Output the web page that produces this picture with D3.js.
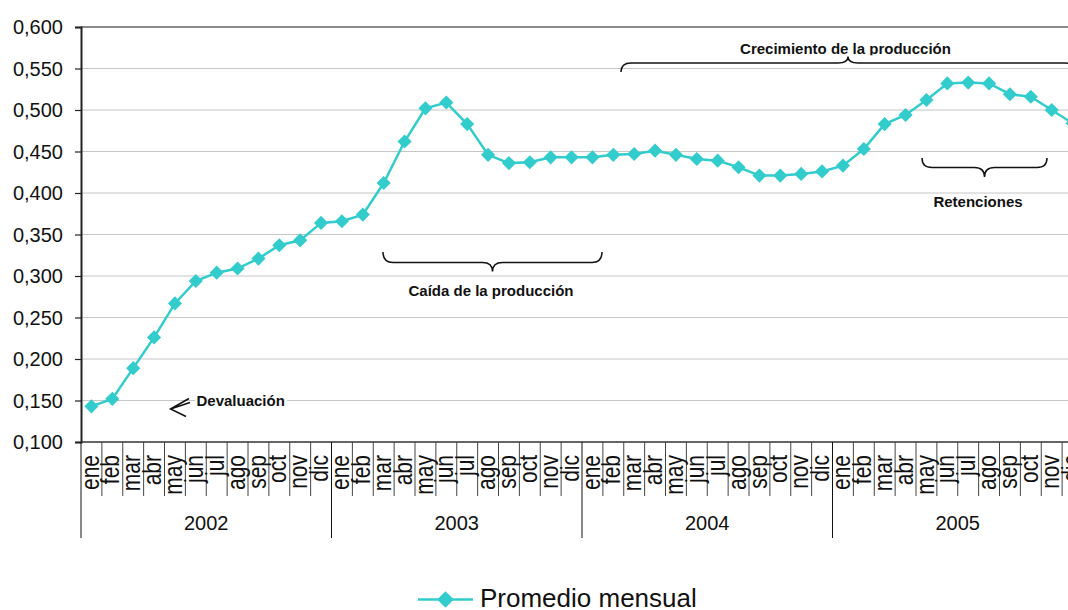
<!DOCTYPE html>
<html>
<head>
<meta charset="utf-8">
<script src="https://cdn.jsdelivr.net/npm/d3@7"></script>
<style>
  html, body { margin: 0; padding: 0; background: #fff; }
  svg { display: block; overflow: hidden; font-family: "Liberation Sans", Arial, sans-serif; }
</style>
</head>
<body>
<svg id="chart" width="1068" height="610"></svg>
<script>
const years = ["2002", "2003", "2004", "2005"];
const months = ["ene","feb","mar","abr","may","jun","jul","ago","sep","oct","nov","dic"];
const values2002 = [0.143,0.152,0.189,0.226,0.267,0.294,0.304,0.309,0.321,0.337,0.343,0.364];
const values2003 = [0.366,0.374,0.412,0.462,0.502,0.509,0.483,0.446,0.436,0.437,0.443,0.443];
const values2004 = [0.443,0.446,0.447,0.451,0.446,0.441,0.439,0.431,0.421,0.421,0.423,0.426];
const values2005 = [0.433,0.453,0.483,0.494,0.512,0.532,0.533,0.532,0.519,0.516,0.500,0.484];
const yTicks = [0.100,0.150,0.200,0.250,0.300,0.350,0.400,0.450,0.500,0.550,0.600];
const seriesName = "Promedio mensual";

(function () {
const allValues = [values2002, values2003, values2004, values2005];
const data = [];
years.forEach((yr, yi) => months.forEach((m, mi) => data.push({key: yr + "-" + m, year: yr, month: m, value: allValues[yi][mi]})));

const svg = d3.select("#chart");
const pLeft = 81, pRight = 1083, pTop = 27, pBottom = 442;
const color = "#33CCCC";

const x = d3.scaleBand().domain(data.map(d => d.key)).range([pLeft, pRight]).padding(0);
const xYear = d3.scaleBand().domain(years).range([pLeft, pRight]).padding(0);
const y = d3.scaleLinear().domain([0.1, 0.6]).range([pBottom, pTop]);
const cx = k => x(k) + x.bandwidth() / 2;

const loc = d3.formatLocale({decimal: ",", thousands: ".", grouping: [3], currency: ["", ""]});
const fmt = loc.format(".3f");

// gridlines
svg.append("g").selectAll("line").data(yTicks.filter(t => t > 0.1)).join("line")
  .attr("x1", pLeft).attr("x2", 1068)
  .attr("y1", d => y(d)).attr("y2", d => y(d))
  .attr("stroke", d => d === 0.6 ? "#8a8a8a" : "#c6c6c6")
  .attr("stroke-width", d => d === 0.6 ? 2 : 1);

// y axis
const yAxis = svg.append("g").attr("transform", `translate(${pLeft},0)`)
  .call(d3.axisLeft(y).tickValues(yTicks).tickFormat(fmt).tickSize(6).tickPadding(12));
yAxis.select(".domain").attr("stroke", "#222").attr("stroke-width", 2);
yAxis.selectAll(".tick line").attr("stroke", "#222").attr("stroke-width", 1.2);
yAxis.selectAll(".tick text").attr("font-size", "20px").attr("fill", "#111")
  .attr("font-family", "Liberation Sans, Arial, sans-serif").attr("dy", "0.33em");

// x axis baseline
svg.append("line").attr("x1", pLeft).attr("x2", 1068).attr("y1", pBottom).attr("y2", pBottom)
  .attr("stroke", "#333").attr("stroke-width", 1.5);

// month dividers
svg.append("g").selectAll("line").data(data).join("line")
  .attr("x1", d => x(d.key)).attr("x2", d => x(d.key))
  .attr("y1", pBottom).attr("y2", d => d.month === "ene" ? 538 : 496)
  .attr("stroke", d => d.month === "ene" ? "#111" : "#444")
  .attr("stroke-width", 1);

// month labels
svg.append("g").selectAll("text").data(data).join("text")
  .attr("transform", d => `translate(${x(d.key) + 17.5},455) rotate(-90) scale(1,1.2)`)
  .attr("text-anchor", "end")
  .attr("font-size", "21px").attr("fill", "#111")
  .text(d => d.month);

// year labels
svg.append("g").selectAll("text").data(years).join("text")
  .attr("x", d => xYear(d) + xYear.bandwidth() / 2).attr("y", 530)
  .attr("text-anchor", "middle").attr("font-size", "20px").attr("fill", "#111")
  .text(d => d);

// line
const line = d3.line().x(d => cx(d.key)).y(d => y(d.value));
svg.append("path").datum(data).attr("d", line)
  .attr("fill", "none").attr("stroke", color).attr("stroke-width", 2.5);

// markers
svg.append("g").selectAll("path").data(data).join("path")
  .attr("d", d3.symbol(d3.symbolSquare, 100))
  .attr("transform", d => `translate(${cx(d.key)},${y(d.value)}) rotate(45)`)
  .attr("fill", color);

// annotations
const ann = svg.append("g").attr("font-weight", "bold").attr("font-size", "15px").attr("fill", "#111");

// Devaluación
ann.append("rect").attr("x", 195).attr("y", 393).attr("width", 92).attr("height", 16).attr("fill", "#fff");
ann.append("text").attr("x", 196.5).attr("y", 405.7).text("Devaluación");
svg.append("path").attr("d", "M189,398.5 L170.5,409 L186,416.5 M170.5,409 L190,402.5")
  .attr("fill", "none").attr("stroke", "#111").attr("stroke-width", 1.5);

function brace(x1, x2, yEnd, yMid, yTip) {
  const xm = (x1 + x2) / 2;
  return `M${x1},${yEnd} Q${x1},${yMid} ${x1 + 10},${yMid} L${xm - 10},${yMid} Q${xm},${yMid} ${xm},${yTip}` +
         ` Q${xm},${yMid} ${xm + 10},${yMid} L${x2 - 10},${yMid} Q${x2},${yMid} ${x2},${yEnd}`;
}
const braceStyle = p => p.attr("fill", "none").attr("stroke", "#111").attr("stroke-width", 1.5);

// Caída
svg.append("path").attr("d", brace(383, 602, 252, 262.5, 271.5)).call(braceStyle);
ann.append("text").attr("x", 491).attr("y", 295.5).attr("text-anchor", "middle").text("Caída de la producción");

// Crecimiento
ann.append("text").attr("x", 845.5).attr("y", 54).attr("text-anchor", "middle").text("Crecimiento de la producción");
svg.append("rect").attr("x", 790).attr("y", 55.3).attr("width", 290).attr("height", 7).attr("fill", "#fff");
svg.append("path").attr("d", brace(621, 1075, 72, 63, 56.5)).call(braceStyle);

// Retenciones
svg.append("path").attr("d", brace(922, 1047, 158, 167.5, 177)).call(braceStyle);
ann.append("text").attr("x", 978).attr("y", 207).attr("text-anchor", "middle").text("Retenciones");

// legend
const lg = svg.append("g");
lg.append("line").attr("x1", 418).attr("x2", 473).attr("y1", 599.5).attr("y2", 599.5)
  .attr("stroke", color).attr("stroke-width", 2.5);
lg.append("path").attr("d", d3.symbol(d3.symbolSquare, 140))
  .attr("transform", "translate(445.5,599.5) rotate(45)").attr("fill", color);
lg.append("text").attr("x", 480).attr("y", 607).attr("font-size", "26px").attr("fill", "#111").text(seriesName);
})();
</script>
</body>
</html>
